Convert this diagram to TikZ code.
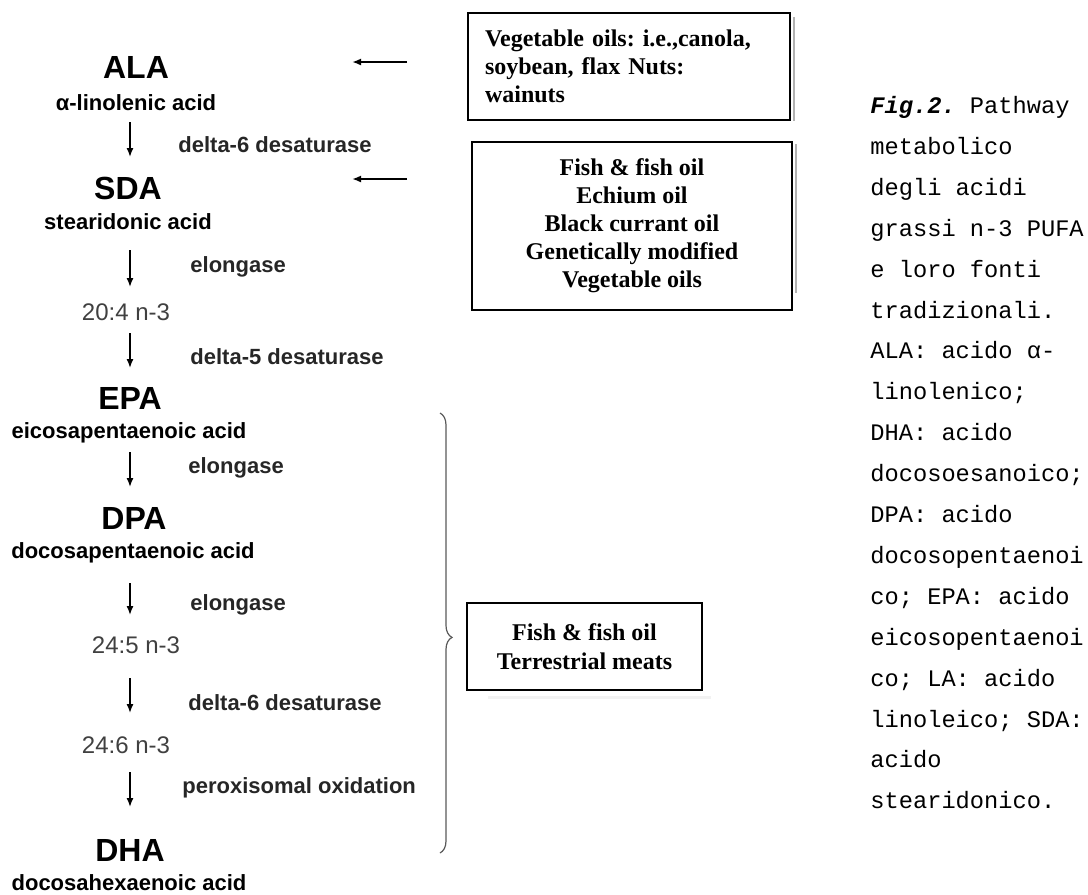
\documentclass[tikz,border=0pt]{standalone}
\usepackage{fontspec}
\setmainfont{Liberation Serif}
\setsansfont{Liberation Sans}
\setmonofont{Liberation Mono}
\usepackage{tikz}
\usetikzlibrary{arrows.meta,positioning,calc,decorations.pathreplacing}
\frenchspacing
\tikzset{
  acid/.style={font=\sffamily\bfseries\fontsize{16pt}{18pt}\selectfont, inner sep=0pt},
  full/.style={font=\sffamily\bfseries\fontsize{11pt}{13pt}\selectfont, inner sep=0pt},
  carbon/.style={font=\sffamily\fontsize{12pt}{14pt}\selectfont, text=black!75, inner sep=0pt},
  enzyme/.style={font=\sffamily\bfseries\fontsize{11pt}{13pt}\selectfont, text=black!85, anchor=west, inner sep=0pt},
  source/.style={draw, line width=1pt, font=\rmfamily\bfseries\fontsize{12pt}{14pt}\selectfont, align=center, inner sep=0pt},
  shadowline/.style={gray!60, line width=1.2pt},
  captext/.style={font=\ttfamily\fontsize{11.85pt}{20.45pt}\selectfont, align=left, inner sep=0pt},
  bracestyle/.style={decorate, decoration={brace, amplitude=6pt, aspect=0.51}, gray!70!black, line width=0.6pt},
  arrow/.style={-{Latex[length=4.5pt,width=3.5pt]}, line width=0.7pt}
}

\begin{document}
\begin{tikzpicture}[x=0.5pt, y=-0.5pt]
    \useasboundingbox (0,0) rectangle (1088,895);
    \coordinate (axis) at (130,0);

    % Pathway
    \node[acid] (ala) at (136,67) {ALA};
    \node[full] (alafull) at (136,103) {α-linolenic acid};
    \node[acid] (sda) at (128,188) {SDA};
    \node[full] (sdafull) at (128,222) {stearidonic acid};
    \node[carbon] (n204) at (126,312) {20:4 n-3};
    \node[acid] (epa) at (130,398) {EPA};
    \node[full] (epafull) at (129,433) {eicosapentaenoic acid};
    \node[acid] (dpa) at (134,518) {DPA};
    \node[full] (dpafull) at (133,553) {docosapentaenoic acid};
    \node[carbon] (n245) at (136,645) {24:5 n-3};
    \node[carbon] (n246) at (126,745) {24:6 n-3};
    \node[acid] (dha) at (130,850) {DHA};
    \node[full] (dhafull) at (129,883) {docosahexaenoic acid};

    % Enzymes
    \node[enzyme] (desat6a) at (178,145) {delta-6 desaturase};
    \node[enzyme] (elonga) at (190,267) {elongase};
    \node[enzyme] (desat5) at (190,357) {delta-5 desaturase};
    \node[enzyme] (elongb) at (188,468) {elongase};
    \node[enzyme] (elongc) at (190,605) {elongase};
    \node[enzyme] (desat6b) at (188,703) {delta-6 desaturase};
    \node[enzyme] (perox) at (182,788) {peroxisomal oxidation};

    % Arrows
    \draw[arrow, shorten <=9.5pt, shorten >=15.5pt] (alafull -| axis) -- (sda -| axis);
    \draw[arrow, shorten <=14pt, shorten >=12.5pt] (sdafull -| axis) -- (n204 -| axis);
    \draw[arrow, shorten <=10.5pt, shorten >=15pt] (n204 -| axis) -- (epa -| axis);
    \draw[arrow, shorten <=9.5pt, shorten >=15.5pt] (epafull -| axis) -- (dpa -| axis);
    \draw[arrow, shorten <=15pt, shorten >=15pt] (dpafull -| axis) -- (n245 -| axis);
    \draw[arrow, shorten <=16.5pt, shorten >=16pt] (n245 -| axis) -- (n246 -| axis);
    \draw[arrow, shorten <=13.5pt, shorten >=21.5pt] (n246 -| axis) -- (dha -| axis);

    % Sources
    \node[source, align=left, text width=144pt, inner xsep=8.5pt, minimum width=161pt, minimum height=53.5pt] (veg) at (629,66.5)
      {Vegetable oils: i.e.,canola,\\ soybean, flax Nuts:\\ wainuts};
    \node[source, minimum width=160pt, minimum height=84pt] (fish) at (632,226)
      {Fish \& fish oil\\ Echium oil\\ Black currant oil\\ Genetically modified\\ Vegetable oils};
    \node[source, font=\rmfamily\bfseries\fontsize{12pt}{14.5pt}\selectfont, minimum width=117.5pt, minimum height=43.5pt] (meat) at (584.5,646.5)
      {Fish \& fish oil\\ Terrestrial meats};
    \draw[shadowline] ($(veg.north east)+(3,5)$) -- ($(veg.south east)+(3,0)$);
    \draw[shadowline] ($(fish.north east)+(3,3)$) -- ($(fish.south east)+(3,-18)$);
    \draw[black!5, line width=1.5pt] ($(meat.south west)+(22,6)$) -- ($(meat.south east)+(8,6)$);

    \draw[arrow, line width=1pt] ($(veg.west)+(-60,-4.5)$) -- ++(-55,0);
    \draw[arrow, line width=1pt] ($(fish.north west)+(-64,38)$) -- ++(-55,0);

    % Brace
    \coordinate (bracetop) at (440,413);
    \coordinate (bracebot) at (440,853);
    \draw[bracestyle] (bracetop) -- (bracebot);

    % Caption
    \node[captext, anchor=north west] (cap) at (870,96)
      {\textbf{\textit{Fig.2.}} Pathway\\ metabolico\\ degli acidi\\ grassi n-3 PUFA\\ e loro fonti\\ tradizionali.\\
       ALA: acido α-\\ linolenico;\\ DHA: acido\\ docosoesanoico;\\ DPA: acido\\ docosopentaenoi\\
       co; EPA: acido\\ eicosopentaenoi\\ co; LA: acido\\ linoleico; SDA:\\ acido\\ stearidonico.};
  \end{tikzpicture}
\end{document}
